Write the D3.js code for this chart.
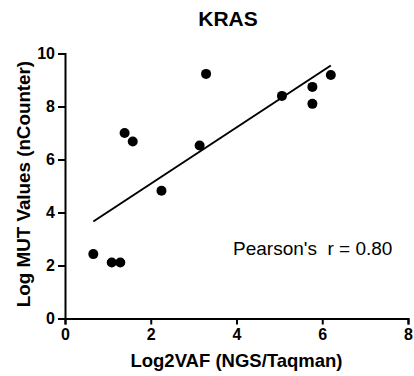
<!DOCTYPE html>
<html>
<head>
<meta charset="utf-8">
<script src="https://cdn.jsdelivr.net/npm/d3@7"></script>
<style>
  html, body { margin: 0; padding: 0; background: #fff; }
  svg { display: block; font-family: "Liberation Sans", Arial, sans-serif; }
</style>
</head>
<body>
<svg id="chart" width="414" height="376"></svg>
<script>
// KRAS: NGS/Taqman VAF versus nCounter MUT values
const titleText = "KRAS";
const xLabel = "Log2VAF (NGS/Taqman)";
const yLabel = "Log MUT Values (nCounter)";
const vafLog2 = [0.66, 1.09, 1.29, 1.39, 1.58, 2.25, 3.14, 3.29, 5.06, 5.77, 5.77, 6.20];
const mutLog  = [2.43, 2.11, 2.11, 7.00, 6.68, 4.82, 6.53, 9.23, 8.40, 8.74, 8.10, 9.19];
const xTicks = [0, 2, 4, 6, 8];
const yTicks = [0, 2, 4, 6, 8, 10];

const svg = d3.select("#chart");
const plotLeft = 65, plotRight = 408, plotTop = 53.5, plotBottom = 318.5;

const x = d3.scaleLinear().domain([0, 8]).range([plotLeft, plotRight]);
const y = d3.scaleLinear().domain([0, 10]).range([plotBottom, plotTop]);

const points = vafLog2.map((v, i) => ({ x: v, y: mutLog[i] }));

// least-squares fit and Pearson correlation
const mx = d3.mean(vafLog2), my = d3.mean(mutLog);
let sxy = 0, sxx = 0, syy = 0;
points.forEach(p => {
  sxy += (p.x - mx) * (p.y - my);
  sxx += (p.x - mx) ** 2;
  syy += (p.y - my) ** 2;
});
const slope = sxy / sxx;
const intercept = my - slope * mx;
const r = sxy / Math.sqrt(sxx * syy);

// axes
const xAxis = svg.append("g")
  .attr("transform", `translate(0,${plotBottom})`)
  .call(d3.axisBottom(x).tickValues(xTicks).tickSize(6).tickPadding(4).tickFormat(d3.format("d")));
const yAxis = svg.append("g")
  .attr("transform", `translate(${plotLeft},0)`)
  .call(d3.axisLeft(y).tickValues(yTicks).tickSize(7).tickPadding(3).tickFormat(d3.format("d")));

[xAxis, yAxis].forEach(g => {
  g.select(".domain").attr("stroke", "#000").attr("stroke-width", 2);
  g.selectAll(".tick line").attr("stroke", "#000").attr("stroke-width", 2);
  g.selectAll(".tick text")
    .attr("fill", "#000")
    .style("font-size", "16px")
    .style("font-weight", "bold")
    .style("font-family", "'Liberation Sans', Arial, sans-serif");
});

// regression line over the observed range
const [x0, x1] = d3.extent(vafLog2);
svg.append("line")
  .attr("x1", x(x0)).attr("y1", y(intercept + slope * x0))
  .attr("x2", x(x1)).attr("y2", y(intercept + slope * x1))
  .attr("stroke", "#000").attr("stroke-width", 2);

// points
svg.append("g").selectAll("circle")
  .data(points)
  .join("circle")
  .attr("cx", d => x(d.x))
  .attr("cy", d => y(d.y))
  .attr("r", 5)
  .attr("fill", "#000");

// title
svg.append("text")
  .attr("x", 228).attr("y", 26)
  .attr("text-anchor", "middle")
  .style("font-size", "21px").style("font-weight", "bold")
  .text(titleText);

// axis titles
svg.append("text")
  .attr("x", (plotLeft + plotRight) / 2).attr("y", 367)
  .attr("text-anchor", "middle")
  .style("font-size", "18.5px").style("font-weight", "bold")
  .text(xLabel);

svg.append("text")
  .attr("transform", `translate(30,184) rotate(-90)`)
  .attr("text-anchor", "middle")
  .style("font-size", "18.8px").style("font-weight", "bold")
  .text(yLabel);

// correlation annotation
svg.append("text")
  .attr("x", 233).attr("y", 255)
  .style("font-size", "19px")
  .style("white-space", "pre")
  .attr("xml:space", "preserve")
  .text("Pearson's  r = " + r.toFixed(2));
</script>
</body>
</html>
